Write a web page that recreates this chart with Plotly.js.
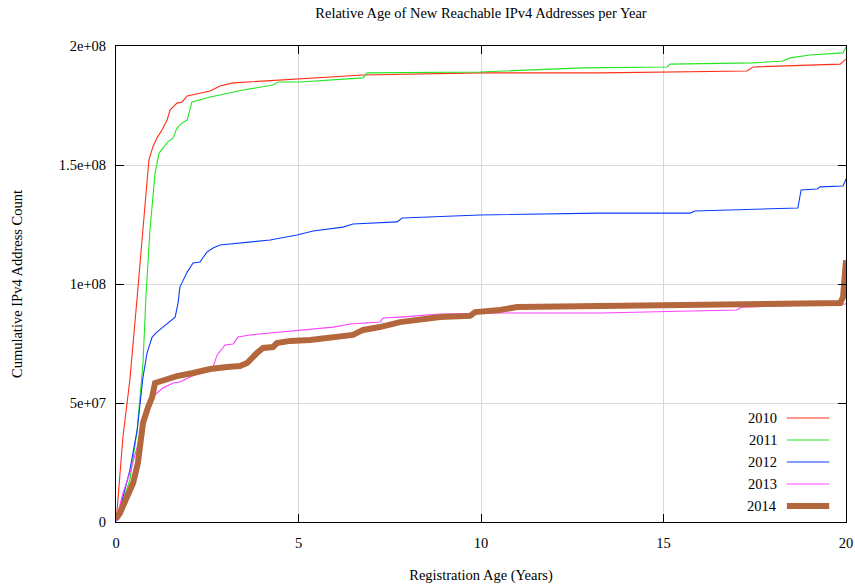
<!DOCTYPE html>
<html>
<head>
<meta charset="utf-8">
<script src="https://cdn.plot.ly/plotly-3.0.1.min.js"></script>
<style>
  html, body { margin: 0; padding: 0; background: #fff; }
  #chart { width: 855px; height: 584px; }
</style>
</head>
<body>
<div id="chart"></div>
<script>
// ---- data (registration age in years, cumulative address count) ----
const years = ["2010", "2011", "2012", "2013", "2014"];

const x2010 = [0, 0.03, 0.19, 0.38, 0.58, 0.74, 0.90, 1.01, 1.12, 1.26, 1.40, 1.48, 1.67, 1.81, 1.95, 2.58, 2.85, 3.21, 4.41, 5.32, 5.78, 6.77, 9.97, 13.26, 17.29, 17.45, 19.84, 20];
const y2010 = [1.7e6, 5e6, 35.7e6, 59.7e6, 94.5e6, 122.7e6, 152e6, 157.6e6, 161.3e6, 164.7e6, 168.9e6, 173.1e6, 176e6, 176.5e6, 179e6, 181.1e6, 183.2e6, 184.5e6, 185.7e6, 186.6e6, 187e6, 187.8e6, 188.7e6, 188.7e6, 189.5e6, 191.2e6, 192.4e6, 194.5e6];

const x2011 = [0, 0.03, 0.38, 0.58, 0.74, 0.82, 0.93, 1.07, 1.18, 1.29, 1.42, 1.56, 1.67, 1.81, 1.95, 2.08, 2.38, 2.58, 3.48, 4.30, 4.44, 5.04, 6.77, 6.88, 9.97, 12.79, 15.10, 15.18, 17.45, 18.27, 18.47, 19.01, 19.92, 20];
const y2011 = [0.4e6, 2.1e6, 17.6e6, 38.7e6, 66.8e6, 94.5e6, 122.7e6, 146.6e6, 155e6, 157.1e6, 159.7e6, 161.3e6, 165.5e6, 167.6e6, 168.9e6, 176.5e6, 177.7e6, 178.6e6, 181.5e6, 183.6e6, 184.9e6, 184.9e6, 186.6e6, 188.7e6, 189.1e6, 190.8e6, 191.2e6, 192.4e6, 192.9e6, 193.7e6, 195e6, 196.2e6, 197.1e6, 199.6e6];

const x2012 = [0, 0.03, 0.19, 0.38, 0.58, 0.74, 0.85, 0.99, 1.12, 1.26, 1.42, 1.62, 1.70, 1.75, 1.95, 2.11, 2.30, 2.49, 2.66, 2.85, 4.22, 4.96, 5.40, 6.22, 6.49, 7.70, 7.84, 9.97, 13.26, 15.73, 15.86, 18.68, 18.77, 19.21, 19.29, 19.92, 20];
const y2012 = [0.4e6, 0.8e6, 10.5e6, 21.8e6, 38.7e6, 60.9e6, 71e6, 77.7e6, 79.8e6, 81.5e6, 83.6e6, 86.1e6, 92e6, 98.7e6, 105e6, 108.8e6, 109.2e6, 113.4e6, 115.1e6, 116.4e6, 118.5e6, 120.6e6, 122.3e6, 123.9e6, 125.2e6, 126.1e6, 127.7e6, 129e6, 129.8e6, 129.8e6, 130.7e6, 131.9e6, 139.5e6, 139.9e6, 140.8e6, 141.2e6, 144.1e6];

const x2013 = [0, 0.03, 0.19, 0.38, 0.58, 0.74, 0.93, 1.12, 1.29, 1.56, 1.75, 2.03, 2.30, 2.58, 2.66, 2.77, 2.99, 3.21, 3.34, 3.67, 5.32, 5.95, 6.41, 7.23, 7.32, 7.78, 8.88, 10.52, 13.26, 17.01, 17.15, 20];
const y2013 = [0.4e6, 2.1e6, 12.2e6, 20.6e6, 31.5e6, 41.6e6, 51.3e6, 54.2e6, 56.3e6, 58.4e6, 58.8e6, 60.9e6, 62.6e6, 63.9e6, 65.1e6, 70.2e6, 74.4e6, 74.8e6, 77.7e6, 78.6e6, 81.1e6, 81.9e6, 83.2e6, 84e6, 85.7e6, 86.1e6, 87.4e6, 87.8e6, 87.8e6, 89.1e6, 90.3e6, 91.6e6];

const x2014 = [0, 0.11, 0.30, 0.47, 0.60, 0.71, 0.74, 0.88, 0.99, 1.07, 1.15, 1.40, 1.67, 2.11, 2.58, 3.04, 3.40, 3.59, 3.73, 3.86, 4.03, 4.30, 4.41, 4.77, 5.32, 5.95, 6.49, 6.77, 7.23, 7.78, 8.88, 9.70, 9.84, 10.52, 10.99, 13.26, 19.84, 19.92, 20];
const y2014 = [1.3e6, 3.8e6, 10.5e6, 16.4e6, 24.8e6, 35.7e6, 41.6e6, 48.3e6, 52.5e6, 58.4e6, 58.8e6, 60.5e6, 61.3e6, 62.6e6, 64.3e6, 65.1e6, 65.5e6, 66.8e6, 69.3e6, 71e6, 73.1e6, 73.5e6, 75.2e6, 76.1e6, 76.5e6, 77.7e6, 78.6e6, 80.7e6, 81.9e6, 84e6, 86.1e6, 86.6e6, 88.2e6, 89.1e6, 90.3e6, 90.8e6, 92e6, 94.5e6, 110e6];

const xTickVals = [0, 5, 10, 15, 20];
const xTickText = ["0", "5", "10", "15", "20"];
const yTickVals = [0, 5e7, 1e8, 1.5e8, 2e8];
const yTickText = ["0", "5e+07", "1e+08", "1.5e+08", "2e+08"];

const colors = ["#ff2e18", "#22e622", "#0a3cff", "#ff40ff", "#b4673c"];
const widths = [1.1, 1.1, 1.1, 1.1, 6];

const xs = [x2010, x2011, x2012, x2013, x2014];
const ys = [y2010, y2011, y2012, y2013, y2014];

const FONT = "Liberation Serif, Times New Roman, serif";
const FS = 14.5;

const traces = years.map((yr, i) => ({
  type: "scatter",
  mode: "lines",
  name: yr,
  x: xs[i],
  y: ys[i],
  line: { color: colors[i], width: widths[i] },
  showlegend: false,
  hoverinfo: "skip"
}));

// gnuplot-style legend: label on the left, line sample on the right
const annotations = [];
const shapes = [];
const legTextX = 0.908, legLineX0 = 0.919, legLineX1 = 0.977;
const legTopY = 0.2185, legStep = 0.0462;
years.forEach((yr, i) => {
  const yy = legTopY - i * legStep;
  annotations.push({
    xref: "paper", yref: "paper", x: legTextX, y: yy,
    xanchor: "right", yanchor: "middle", showarrow: false,
    text: yr, font: { family: FONT, size: FS, color: "#000" }
  });
  shapes.push({
    type: "line", xref: "paper", yref: "paper",
    x0: legLineX0, x1: legLineX1, y0: yy, y1: yy,
    line: { color: colors[i], width: widths[i] }
  });
});

const layout = {
  width: 855, height: 584,
  margin: { l: 116, r: 9, t: 46, b: 62 },
  paper_bgcolor: "#fff", plot_bgcolor: "#fff",
  font: { family: FONT, size: FS, color: "#000" },
  title: {
    text: "Relative Age of New Reachable IPv4 Addresses per Year",
    font: { family: FONT, size: FS, color: "#000" },
    xref: "paper", x: 0.5, xanchor: "center",
    yref: "container", y: 0.978, yanchor: "middle"
  },
  xaxis: {
    range: [0, 20], tickvals: xTickVals, ticktext: xTickText,
    ticks: "inside", ticklen: 8, tickcolor: "#000", tickwidth: 1,
    ticklabelstandoff: 8,
    showline: true, linecolor: "#000", linewidth: 1, mirror: "allticks",
    showgrid: true, gridcolor: "#d9d9d9", gridwidth: 1, zeroline: false,
    tickfont: { family: FONT, size: FS },
    title: { text: "Registration Age (Years)", font: { family: FONT, size: FS }, standoff: 24 },
    automargin: false, fixedrange: true
  },
  yaxis: {
    range: [0, 2e8], tickvals: yTickVals, ticktext: yTickText,
    ticks: "inside", ticklen: 8, tickcolor: "#000", tickwidth: 1,
    ticklabelstandoff: 6,
    showline: true, linecolor: "#000", linewidth: 1, mirror: "allticks",
    showgrid: true, gridcolor: "#d9d9d9", gridwidth: 1, zeroline: false,
    tickfont: { family: FONT, size: FS },
    title: { text: "Cumulative IPv4 Address Count", font: { family: FONT, size: FS }, standoff: 32 },
    automargin: false, fixedrange: true
  },
  annotations: annotations,
  shapes: shapes
};

Plotly.newPlot("chart", traces, layout, { displayModeBar: false, staticPlot: true });
</script>
</body>
</html>
